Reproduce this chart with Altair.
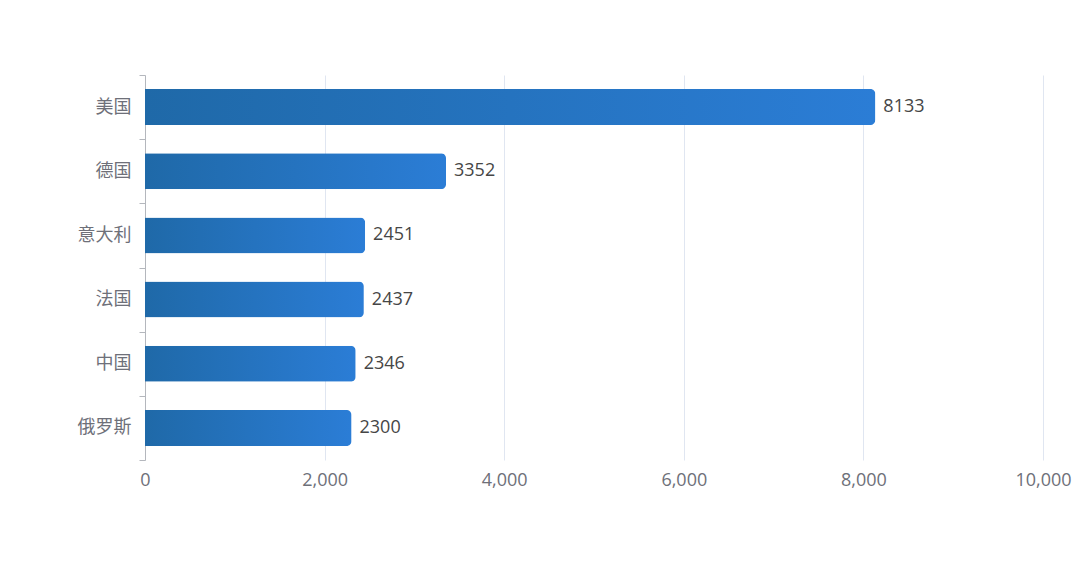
import altair as alt
import pandas as pd

countries = ["美国", "德国", "意大利", "法国", "中国", "俄罗斯"]
values = [8133, 3352, 2451, 2437, 2346, 2300]
x_ticks = [0, 2000, 4000, 6000, 8000, 10000]

df = pd.DataFrame({"country": countries, "value": values})

FONT = "Open Sans, Noto Sans CJK SC, sans-serif"

gradient = alt.Gradient(
    gradient="linear",
    x1=0, x2=1, y1=0, y2=0,
    stops=[alt.GradientStop(color="#1f69a8", offset=0),
           alt.GradientStop(color="#2b7dd6", offset=1)],
)

y_enc = alt.Y(
    "country:N", sort=countries, title=None,
    scale=alt.Scale(paddingInner=0, paddingOuter=0),
    axis=alt.Axis(
        domain=True, domainColor="#b4b7bd", ticks=True, tickColor="#b4b7bd",
        tickSize=6, tickBand="extent", grid=False,
        labelFont=FONT, labelFontSize=18, labelColor="#6e7079", labelPadding=8,
    ),
)
x_enc = alt.X(
    "value:Q", title=None,
    scale=alt.Scale(domain=[0, 10000], nice=False),
    axis=alt.Axis(
        values=x_ticks, format=",d", domain=False, ticks=False, grid=True,
        gridColor="#e0e6f1", labelFont=FONT, labelFontSize=18, labelFlush=False,
        labelColor="#6e7079", labelPadding=11,
    ),
)

bars = alt.Chart(df).mark_bar(
    color=gradient, cornerRadiusTopRight=5, cornerRadiusBottomRight=5,
    height=alt.RelativeBandSize(band=0.56),
).encode(x=x_enc, y=y_enc)

labels = alt.Chart(df).mark_text(
    align="left", baseline="middle", dx=8, font=FONT, fontSize=18, color="#464646"
).encode(x="value:Q", y=alt.Y("country:N", sort=countries), text="value:Q")

chart = (bars + labels).properties(
    width=898, height=385,
    padding={"left": 137, "top": 67, "right": 29, "bottom": 80},
    autosize=alt.AutoSizeParams(type="none"),
).configure_view(stroke=None)

chart.save("out.html", embed_options={"renderer": "svg", "actions": False})
